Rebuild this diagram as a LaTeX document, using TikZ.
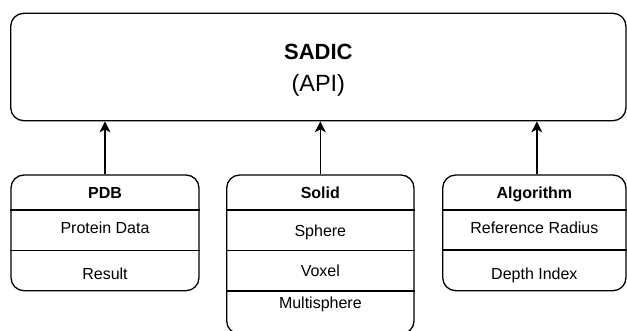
\documentclass[tikz,border=0pt]{standalone}
\usepackage{fontspec}
\setmainfont{Liberation Sans}
\usetikzlibrary{arrows.meta,calc}
\begin{document}
\begin{tikzpicture}[x=1pt,y=-1pt,
  box/.style={draw, line width=1.3pt, rounded corners=13pt, inner sep=0pt},
  sepline/.style={line width=1.3pt},
  arr/.style={line width=1.3pt, -{Stealth[length=11pt,width=11pt,inset=3pt]}},
  lbl/.style={anchor=base, inner sep=0pt, font=\fontsize{16}{19}\selectfont},
  hdr/.style={anchor=base, inner sep=0pt, font=\fontsize{16}{19}\selectfont\bfseries}]
\useasboundingbox (0,0) rectangle (627,331);

% top box
\node[box, minimum width=615.3pt, minimum height=107.4pt] (api) at (318.35,67) {};
\node[anchor=base, inner sep=0pt, font=\fontsize{22}{26}\selectfont\bfseries] (sadic) at (318.3,59.3) {SADIC};
\node[anchor=base, inner sep=0pt, font=\fontsize{23.5}{28}\selectfont] (apil) at (318.3,91.7) {(API)};

% PDB
\node[box, minimum width=188pt, minimum height=115.7pt] (pdb) at (105,232.85) {};
\node[hdr] (pdbh) at (105,198.3) {PDB};
\draw[sepline] (pdb.west |- 0,210) -- (pdb.east |- 0,210);
\node[lbl] (pdb1) at (105,234) {Protein Data};
\draw[sepline] (pdb.west |- 0,250.3) -- (pdb.east |- 0,250.3);
\node[lbl] (pdb2) at (105,280) {Result};

% Solid
\node[box, minimum width=187.3pt, minimum height=159pt] (sol) at (320.35,254.5) {};
\node[hdr] (solh) at (320.35,198.3) {Solid};
\draw[sepline] (sol.west |- 0,210) -- (sol.east |- 0,210);
\node[lbl] (sol1) at (320.35,236.7) {Sphere};
\draw[sepline] (sol.west |- 0,250.7) -- (sol.east |- 0,250.7);
\node[lbl] (sol2) at (320.35,276.7) {Voxel};
\draw[sepline] (sol.west |- 0,291) -- (sol.east |- 0,291);
\node[lbl] (sol3) at (320.35,308.3) {Multisphere};

% Algorithm
\node[box, minimum width=183.3pt, minimum height=115.7pt] (alg) at (534.35,232.85) {};
\node[hdr] (algh) at (534.35,198.3) {Algorithm};
\draw[sepline] (alg.west |- 0,210) -- (alg.east |- 0,210);
\node[lbl] (alg1) at (534.35,234) {Reference Radius};
\draw[sepline] (alg.west |- 0,250) -- (alg.east |- 0,250);
\node[lbl] (alg2) at (534.35,279.3) {Depth Index};

% arrows
\draw[arr] (pdb.north) -- (pdb.north |- api.south);
\draw[arr] (sol.north) -- (sol.north |- api.south);
\draw[arr] ([xshift=2.5pt]alg.north) -- ([xshift=2.5pt]alg.north |- api.south);
\end{tikzpicture}
\end{document}
